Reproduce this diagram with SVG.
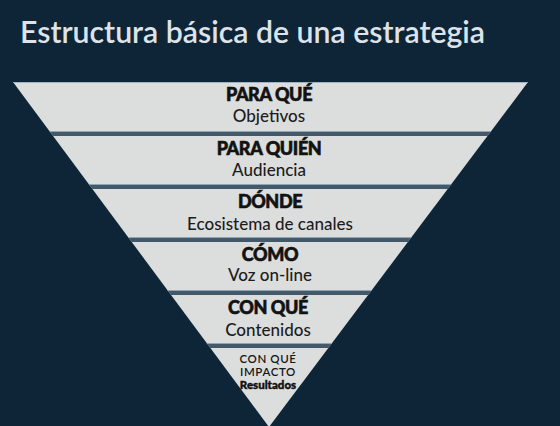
<svg xmlns="http://www.w3.org/2000/svg" width="560" height="426" viewBox="0 0 560 426">
  <defs>
    <clipPath id="tri">
      <polygon points="13,82 528,82 269,427"/>
    </clipPath>
    <style>
      .title { font-family: Lato, "Liberation Sans", sans-serif; font-weight: 600; font-size: 31px; fill: #dde3e8; }
      .head { font-family: Lato, "Liberation Sans", sans-serif; font-weight: 900; font-size: 18px; fill: #121212; stroke: #121212; stroke-width: 0.6px; text-anchor: middle; letter-spacing: -0.4px; }
      .sub { font-family: Lato, "Liberation Sans", sans-serif; font-weight: 500; font-size: 17px; fill: #1c1c1c; text-anchor: middle; }
      .small { font-family: Lato, "Liberation Sans", sans-serif; font-weight: 600; font-size: 11.5px; fill: #161616; text-anchor: middle; letter-spacing: 0.6px; }
      .smallb { font-family: Lato, "Liberation Sans", sans-serif; font-weight: 900; font-size: 11.5px; fill: #111111; stroke: #111111; stroke-width: 0.4px; text-anchor: middle; }
      .sep { fill: #43596a; }
      .sepl { fill: #8fa6b6; }
    </style>
  </defs>
  <rect width="560" height="426" fill="#0e2537"/>
  <text class="title" x="20" y="43" textLength="465" lengthAdjust="spacingAndGlyphs">Estructura básica de una estrategia</text>

  <g id="pyramid">
    <polygon points="13,82 528,82 269,427" fill="#dcdede"/>
    <rect x="0" y="82" width="560" height="1" fill="#9fb4c3" clip-path="url(#tri)"/>
  </g>

  <g id="connectors" clip-path="url(#tri)">
    <rect class="sepl" x="0" y="131" width="560" height="1"/>
    <rect class="sep" x="0" y="132" width="560" height="4"/>
    <rect class="sepl" x="0" y="184" width="560" height="1"/>
    <rect class="sep" x="0" y="185" width="560" height="4"/>
    <rect class="sepl" x="0" y="237" width="560" height="1"/>
    <rect class="sep" x="0" y="238" width="560" height="4"/>
    <rect class="sepl" x="0" y="290" width="560" height="1"/>
    <rect class="sep" x="0" y="291" width="560" height="4"/>
    <rect class="sepl" x="0" y="343" width="560" height="1"/>
    <rect class="sep" x="0" y="344" width="560" height="4"/>
  </g>

  <g id="para-que">
    <text class="head" x="269" y="101">PARA QUÉ</text>
    <text class="sub" x="269" y="122">Objetivos</text>
  </g>
  <g id="para-quien">
    <text class="head" x="269" y="155">PARA QUIÉN</text>
    <text class="sub" x="269" y="176">Audiencia</text>
  </g>
  <g id="donde">
    <text class="head" x="270" y="208">DÓNDE</text>
    <text class="sub" x="270" y="230">Ecosistema de canales</text>
  </g>
  <g id="como">
    <text class="head" x="270" y="261">CÓMO</text>
    <text class="sub" x="270" y="281">Voz on-line</text>
  </g>
  <g id="con-que">
    <text class="head" x="268" y="314">CON QUÉ</text>
    <text class="sub" x="268" y="336">Contenidos</text>
  </g>
  <g id="con-que-impacto">
    <text class="small" x="268" y="363">CON QUÉ</text>
    <text class="small" x="268" y="376">IMPACTO</text>
    <text class="smallb" x="268" y="389">Resultados</text>
  </g>
</svg>
